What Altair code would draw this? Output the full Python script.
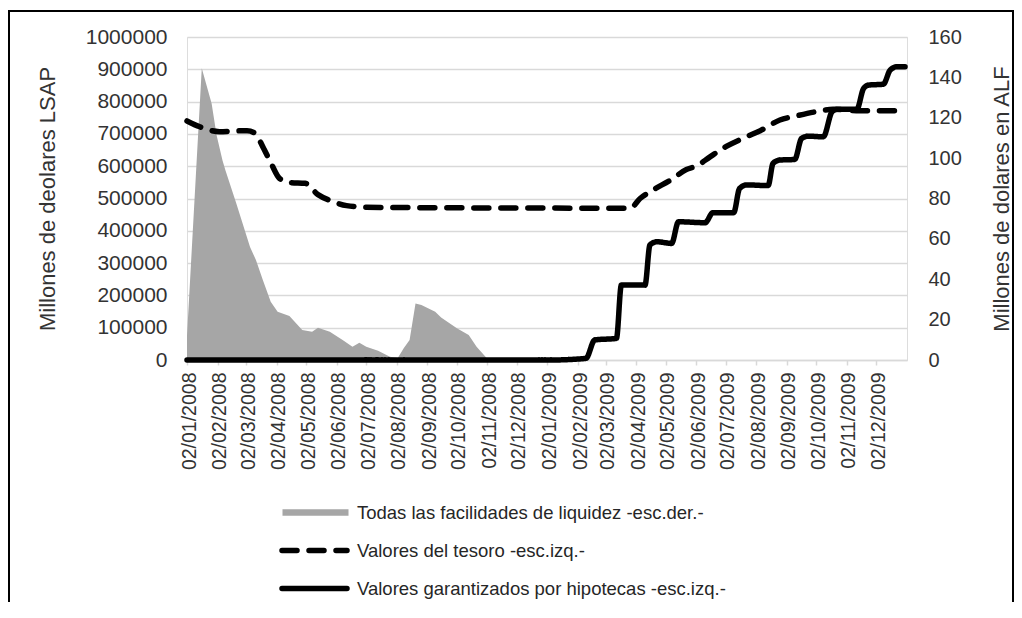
import altair as alt
import pandas as pd

FONT = "Liberation Sans"
TXT = "#333333"

# ---- data ----
area_dates = ["2008-01-02", "2008-01-17", "2008-01-27", "2008-02-01", "2008-02-07", "2008-02-10",
              "2008-02-21", "2008-03-06", "2008-03-12", "2008-03-19", "2008-03-27", "2008-04-03",
              "2008-04-15", "2008-04-28", "2008-05-08", "2008-05-14", "2008-05-26", "2008-06-08",
              "2008-06-18", "2008-06-25", "2008-07-02", "2008-07-14", "2008-07-26", "2008-08-03",
              "2008-08-09", "2008-08-15", "2008-08-21", "2008-08-27", "2008-09-10", "2008-09-16",
              "2008-10-02", "2008-10-14", "2008-10-22", "2008-11-03", "2009-12-31"]
area_vals = [12, 144.5, 127, 111.5, 99, 94,
             77.6, 56, 49.5, 39.6, 28.9, 23.9,
             21.8, 14.9, 14, 16, 14, 9.9,
             6.6, 8.6, 6.6, 4.6, 1.6, 1,
             5.8, 9.9, 28, 27.2, 23.9, 21,
             15.7, 12.4, 6.6, 0, 0]

tesoro_dates = ["2008-01-02", "2008-01-15", "2008-02-04", "2008-03-03", "2008-03-11", "2008-03-19",
                "2008-03-28", "2008-04-05", "2008-04-16", "2008-05-01", "2008-05-14", "2008-05-28",
                "2008-06-12", "2008-07-02", "2008-10-15", "2009-03-27", "2009-04-06", "2009-04-19",
                "2009-05-08", "2009-05-23", "2009-06-02", "2009-06-16", "2009-07-03", "2009-07-23",
                "2009-08-06", "2009-08-26", "2009-09-12", "2009-10-02", "2009-10-19", "2009-11-15",
                "2009-12-31"]
tesoro_vals = [740000, 722000, 707000, 710000, 702000, 660000,
               605000, 562000, 549000, 547000, 512000, 492000,
               478000, 473000, 471000, 470000, 500000, 526000,
               559000, 590000, 600000, 629000, 662000, 691000,
               710000, 743000, 756000, 769000, 776000, 772000,
               772000]

hip_dates = ["2008-01-02", "2009-01-06", "2009-02-10", "2009-02-19", "2009-03-13", "2009-03-18",
             "2009-04-11", "2009-04-16", "2009-04-23", "2009-05-08", "2009-05-15", "2009-06-11",
             "2009-06-19", "2009-07-10", "2009-07-16", "2009-07-23", "2009-08-14", "2009-08-19",
             "2009-08-26", "2009-09-10", "2009-09-17", "2009-09-24", "2009-10-09", "2009-10-18",
             "2009-10-23", "2009-11-12", "2009-11-19", "2009-11-24", "2009-12-09", "2009-12-16",
             "2009-12-23", "2009-12-31"]
hip_vals = [0, 0, 5000, 62000, 67000, 232000,
            232000, 356000, 366000, 361000, 428000, 425000,
            456000, 456000, 531000, 542000, 540000, 609000,
            619000, 621000, 686000, 693000, 691000, 769000,
            776000, 776000, 841000, 851000, 854000, 898000,
            908000, 908000]

series = ["Todas las facilidades de liquidez -esc.der.-",
          "Valores del tesoro -esc.izq.-",
          "Valores garantizados por hipotecas -esc.izq.-"]

month_ticks = ["2008-01-02", "2008-02-02", "2008-03-02", "2008-04-02", "2008-05-02", "2008-06-02",
               "2008-07-02", "2008-08-02", "2008-09-02", "2008-10-02", "2008-11-02", "2008-12-02",
               "2009-01-02", "2009-02-02", "2009-03-02", "2009-04-02", "2009-05-02", "2009-06-02",
               "2009-07-02", "2009-08-02", "2009-09-02", "2009-10-02", "2009-11-02", "2009-12-02"]
left_ticks = [0, 100000, 200000, 300000, 400000, 500000, 600000, 700000, 800000, 900000, 1000000]
right_ticks = [0, 20, 40, 60, 80, 100, 120, 140, 160]
x_domain = ["2008-01-02", "2010-01-02"]

# ---- tables ----
def dt(s):
    y, m, d = (int(p) for p in s.split("-"))
    return alt.DateTime(year=y, month=m, date=d, utc=True)

area_df = pd.DataFrame({"date": area_dates, "bn": area_vals, "name": series[0]})
lines_df = pd.concat([
    pd.DataFrame({"date": tesoro_dates, "value": tesoro_vals, "name": series[1]}),
    pd.DataFrame({"date": hip_dates, "value": hip_vals, "name": series[2]}),
], ignore_index=True)
leg_df = pd.DataFrame({"name": series, "row": [0, 1, 2]})

x_enc = alt.X(
    "date:T",
    scale=alt.Scale(type="utc", domain=[dt(s) for s in x_domain], nice=False),
    axis=alt.Axis(values=[dt(s) for s in month_ticks], format="%d/%m/%Y", labelAngle=270,
                  labelFontSize=19.5, labelFont=FONT, labelColor=TXT, labelPadding=7,
                  labelOverlap=False, labelFlush=False, labelOffset=2,
                  tickSize=5, tickColor="#d9d9d9", tickWidth=1.5,
                  domainColor="#d9d9d9", domainWidth=1.5, grid=False, title=None),
)

dash_scale = alt.Scale(domain=series, range=[[1, 0], [15, 12], [1, 0]])

area = alt.Chart(area_df).mark_area(color="#a6a6a6", interpolate="linear").encode(
    x=x_enc,
    y=alt.Y("bn:Q", scale=alt.Scale(domain=[0, 160], nice=False),
            axis=alt.Axis(orient="right", values=right_ticks, grid=False, domain=False, ticks=False,
                          labelPadding=21, labelFontSize=20, labelFont=FONT, labelColor=TXT,
                          title="Millones de dolares en ALF", titleFont=FONT, titleFontSize=22,
                          titleFontWeight="normal", titleColor=TXT, titleAngle=270,
                          titleX=94, titleY=161.5, titleAlign="center", titleBaseline="middle")),
)

lines = alt.Chart(lines_df).mark_line(color="black", strokeWidth=5.5, strokeCap="round",
                                      strokeJoin="round", interpolate="monotone").encode(
    x=x_enc,
    y=alt.Y("value:Q", scale=alt.Scale(domain=[0, 1000000], nice=False),
            axis=alt.Axis(orient="left", values=left_ticks, format="d", grid=True,
                          gridColor="#d9d9d9", gridWidth=1.5, domain=False, ticks=False,
                          labelPadding=20, labelFontSize=21, labelFont=FONT, labelColor=TXT,
                          title="Millones de deolares LSAP", titleFont=FONT, titleFontSize=22,
                          titleFontWeight="normal", titleColor=TXT, titleAngle=270,
                          titleX=-140, titleY=161.5, titleAlign="center", titleBaseline="middle")),
    strokeDash=alt.StrokeDash("name:N", scale=dash_scale, legend=None),
    detail="name:N",
)

row_y = alt.Y("row:Q", scale=alt.Scale(domain=[0, 2], range=[475.5, 551.5]), axis=None)

leg_gray = alt.Chart(leg_df).transform_filter("datum.row == 0").mark_rule(
    color="#a6a6a6", strokeWidth=6.5, strokeCap="butt").encode(
    x=alt.value(95.5), x2=alt.value(161.5), y=row_y)

leg_lines = alt.Chart(leg_df).transform_filter("datum.row > 0").mark_rule(
    color="black", strokeWidth=5.5, strokeCap="round").encode(
    x=alt.value(95), x2=alt.value(160), y=row_y,
    strokeDash=alt.StrokeDash("name:N", scale=dash_scale, legend=None))

leg_text = alt.Chart(leg_df).mark_text(align="left", baseline="middle", font=FONT,
                                       fontSize=18.5, color="#262626").encode(
    x=alt.value(170), y=row_y, text="name:N")

border = alt.Chart(pd.DataFrame({"k": [0]})).mark_rect(
    fillOpacity=0, stroke="black", strokeWidth=2).encode(
    x=alt.value(-178), x2=alt.value(826), y=alt.value(-26), y2=alt.value(620))

chart = alt.layer(area, lines, leg_gray, leg_lines, leg_text, border).resolve_scale(
    y="independent"
).properties(
    width=720, height=323,
    autosize=alt.AutoSizeParams(type="none"),
    padding={"left": 179, "top": 29, "right": 107, "bottom": 242},
).configure_view(stroke=None).configure(background="white")

chart.save("out.html", embed_options={"renderer": "svg", "actions": False})
